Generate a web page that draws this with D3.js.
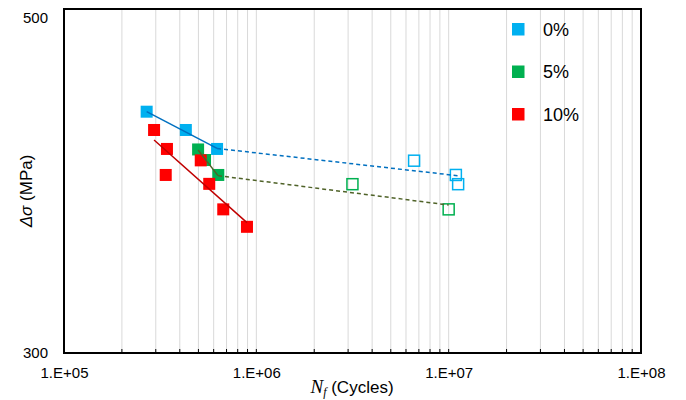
<!DOCTYPE html>
<html>
<head>
<meta charset="utf-8">
<script src="https://cdn.jsdelivr.net/npm/d3@7"></script>
<style>
body { margin: 0; background: #fff; }
svg { font-family: "Liberation Sans", Arial, sans-serif; }
</style>
</head>
<body>
<svg id="chart" width="686" height="400"></svg>
<script>
// series: [cycles, stress range MPa]
var series = ["0%", "5%", "10%"];
var colors = ["#00B0F0", "#00B050", "#FF0000"];
var lineColors = ["#0070C0", "#4F6228", "#C00000"];

var failed0 = [[2.69e5, 443.8], [4.30e5, 432.9], [6.25e5, 421.6]];
var runout0 = [[6.61e6, 414.6], [1.09e7, 406.1], [1.12e7, 400.6]];
var failed5 = [[4.98e5, 421.3], [5.41e5, 415.0], [6.34e5, 406.1]];
var runout5 = [[3.16e6, 400.6], [1.00e7, 385.6]];
var failed10 = [[2.94e5, 432.9], [3.43e5, 421.6], [3.38e5, 406.1], [5.14e5, 414.8],
                [5.69e5, 400.8], [6.73e5, 385.6], [8.94e5, 375.2]];

// fitted lines (solid) and extensions to run-outs (dashed)
var fit0 = [[2.69e5, 443.8], [6.25e5, 421.9]];
var ext0 = [[6.25e5, 421.9], [1.146e7, 405.5]];
var fit5 = [[4.98e5, 421.0], [6.32e5, 405.7]];
var ext5 = [[6.32e5, 405.7], [1.00e7, 388.2]];
var fit10 = [[2.94e5, 426.9], [8.94e5, 377.7]];

var xTicks = [1e5, 1e6, 1e7, 1e8];
var yTicks = [300, 500];

var svg = d3.select("#chart");
var padL = 64, padR = 641, padT = 9, padB = 353;

var x = d3.scaleLog().domain([1e5, 1e8]).range([padL, padR]);
var y = d3.scaleLinear().domain([300, 505]).range([padB, padT]);

var minor = [];
[1e5, 1e6, 1e7].forEach(function(d){
    for (var i = 2; i <= 9; i++) minor.push(d * i);
});
minor.push(1e6, 1e7);

// vertical grid
svg.append("g")
    .selectAll("line")
    .data(minor)
    .enter().append("line")
    .attr("x1", function(d){ return x(d); })
    .attr("x2", function(d){ return x(d); })
    .attr("y1", padT)
    .attr("y2", padB)
    .attr("stroke", "#d9d9d9")
    .attr("stroke-width", 1);

// small inward ticks on x axis
svg.append("g")
    .selectAll("line")
    .data(minor)
    .enter().append("line")
    .attr("x1", function(d){ return x(d); })
    .attr("x2", function(d){ return x(d); })
    .attr("y1", padB)
    .attr("y2", padB - 4)
    .attr("stroke", "#000")
    .attr("stroke-width", 1);

// x axis labels
var xAxis = svg.append("g")
    .attr("transform", "translate(0," + padB + ")")
    .call(d3.axisBottom(x).tickValues(xTicks).tickSize(0).tickPadding(14)
        .tickFormat(function(d){ return "1.E+" + d3.format("02")(Math.round(Math.log10(d))); }));
xAxis.select(".domain").remove();
xAxis.selectAll("text").attr("font-size", 15).attr("fill", "#000")
    .attr("font-family", "Liberation Sans, Arial, sans-serif");

var yAxis = svg.append("g")
    .attr("transform", "translate(" + padL + ",0)")
    .call(d3.axisLeft(y).tickValues(yTicks).tickSize(0).tickPadding(16));
yAxis.select(".domain").remove();
yAxis.selectAll("text").attr("font-size", 15).attr("fill", "#000")
    .attr("font-family", "Liberation Sans, Arial, sans-serif");

// plot border
svg.append("rect")
    .attr("x", padL).attr("y", padT)
    .attr("width", padR - padL).attr("height", padB - padT)
    .attr("fill", "none")
    .attr("stroke", "#000")
    .attr("stroke-width", 2);

var line = d3.line()
    .x(function(d){ return x(d[0]); })
    .y(function(d){ return y(d[1]); });

function drawLine(data, color, dashed){
    svg.append("path")
        .attr("d", line(data))
        .attr("fill", "none")
        .attr("stroke", color)
        .attr("stroke-width", 1.5)
        .attr("stroke-dasharray", dashed ? "4,3" : null);
}

function drawFilled(data, color){
    svg.append("g").selectAll("rect")
        .data(data)
        .enter().append("rect")
        .attr("x", function(d){ return x(d[0]) - 6; })
        .attr("y", function(d){ return y(d[1]) - 6; })
        .attr("width", 12)
        .attr("height", 12)
        .attr("fill", color);
}

function drawOpen(data, color){
    svg.append("g").selectAll("rect")
        .data(data)
        .enter().append("rect")
        .attr("x", function(d){ return x(d[0]) - 5.5; })
        .attr("y", function(d){ return y(d[1]) - 5.5; })
        .attr("width", 11)
        .attr("height", 11)
        .attr("fill", "none")
        .attr("stroke", color)
        .attr("stroke-width", 1.5);
}

drawOpen(runout0, colors[0]);
drawOpen(runout5, colors[1]);

drawFilled(failed0, colors[0]);
drawFilled(failed5, colors[1]);
drawFilled(failed10, colors[2]);

drawLine(fit0, lineColors[0], false);
drawLine(ext0, lineColors[0], true);
drawLine(fit5, lineColors[1], false);
drawLine(ext5, lineColors[1], true);
drawLine(fit10, lineColors[2], false);

// legend
var legend = svg.append("g")
    .selectAll("g")
    .data(series)
    .enter().append("g")
    .attr("transform", function(d, i){ return "translate(512," + (29 + i * 42.5) + ")"; });
legend.append("rect")
    .attr("x", 0).attr("y", -6)
    .attr("width", 12.5).attr("height", 12.5)
    .attr("fill", function(d, i){ return colors[i]; });
legend.append("text")
    .attr("x", 31).attr("y", 6.5)
    .attr("font-size", 18)
    .text(function(d){ return d; });

// axis titles
var xt = svg.append("text")
    .attr("x", 352).attr("y", 393)
    .attr("text-anchor", "middle")
    .attr("font-size", 17);
xt.append("tspan").attr("font-family", "Liberation Serif, Times New Roman, serif")
    .attr("font-style", "italic").attr("font-size", 19).text("N");
xt.append("tspan").attr("font-family", "Liberation Serif, Times New Roman, serif")
    .attr("font-style", "italic").attr("font-size", 12).attr("dy", 3).text("f");
xt.append("tspan").attr("dy", -3).text(" (Cycles)");

var yt = svg.append("text")
    .attr("transform", "translate(32,191) rotate(-90)")
    .attr("text-anchor", "middle")
    .attr("font-size", 17);
yt.append("tspan").attr("font-style", "italic").text("Δσ");
yt.append("tspan").text(" (MPa)");
</script>
</body>
</html>
